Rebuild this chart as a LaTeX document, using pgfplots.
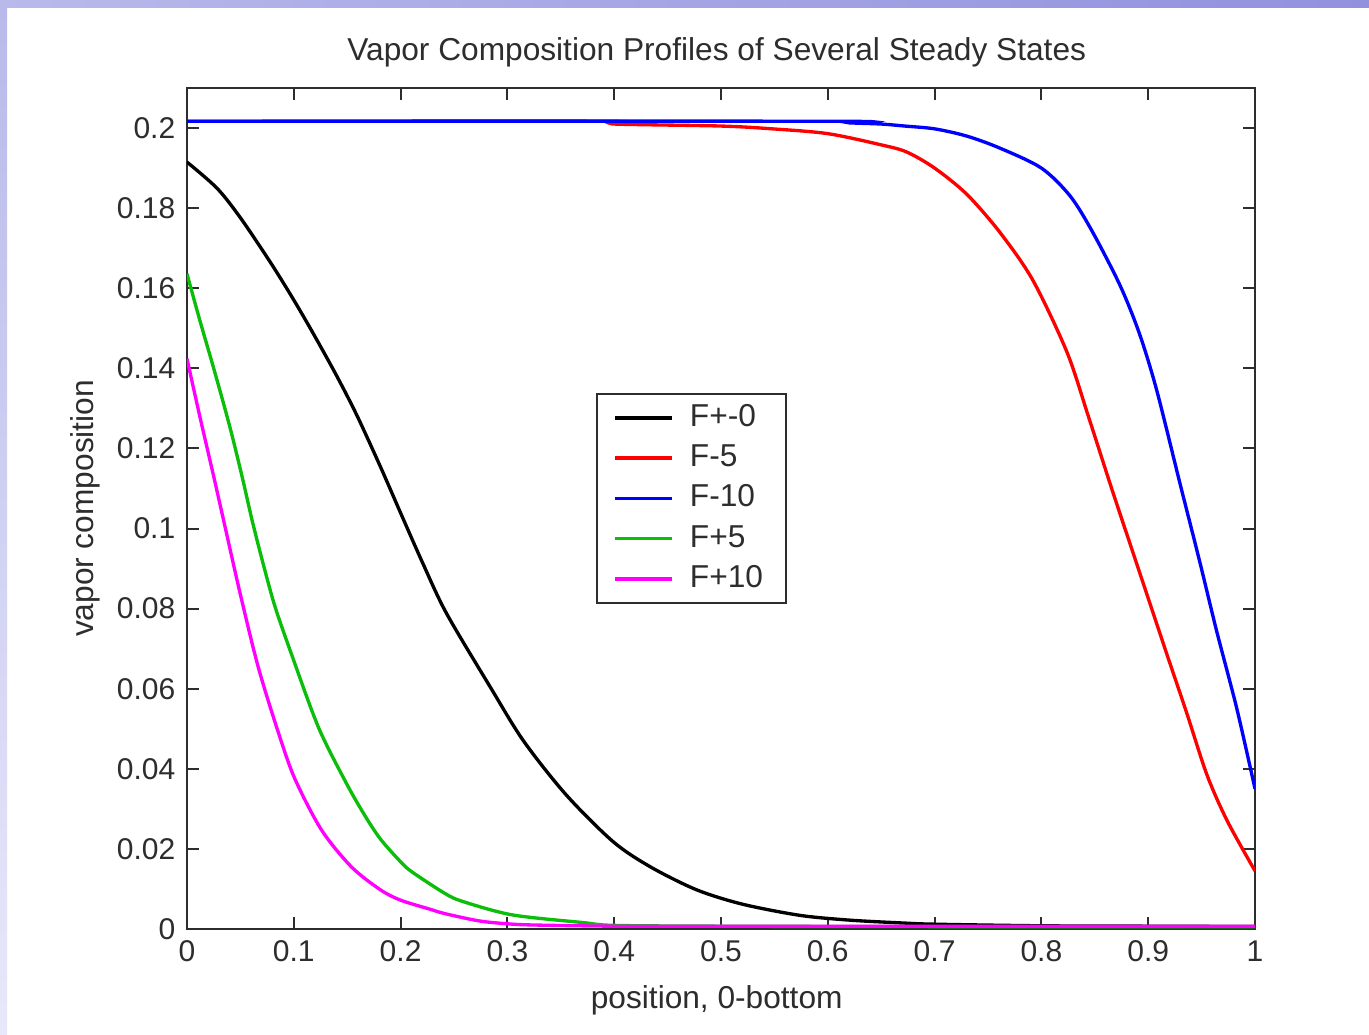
\documentclass[border=0pt]{standalone}
\usepackage{pgfplots}
\pgfplotsset{compat=1.18}
\usepackage{fontspec}
\setmainfont{Liberation Sans}
\definecolor{axgray}{RGB}{45,45,45}
\definecolor{mgreen}{RGB}{10,190,10}
\definecolor{mmag}{RGB}{255,0,255}
\definecolor{lavA}{RGB}{185,185,235}
\definecolor{lavB}{RGB}{145,145,222}
\definecolor{lavC}{RGB}{232,232,250}
\begin{document}
\begin{tikzpicture}
% slide background frame
\fill[white] (2.1pt,0pt) rectangle (410.7pt,308.1pt);
\fill[top color=lavA, bottom color=lavC] (0pt,0pt) rectangle (2.1pt,308.1pt);
\fill[left color=lavA, right color=lavB] (0pt,308.1pt) rectangle (410.7pt,310.5pt);
\begin{axis}[
    at={(56.1pt,31.8pt)}, anchor=south west,
    width=320.4pt, height=252.3pt, scale only axis,
    xmin=0, xmax=1, ymin=0, ymax=0.21,
    xtick={0,0.1,0.2,0.3,0.4,0.5,0.6,0.7,0.8,0.9,1},
    ytick={0,0.02,0.04,0.06,0.08,0.1,0.12,0.14,0.16,0.18,0.2},
    tick align=inside,
    axis line style={axgray, line width=0.6pt},
    every tick/.style={axgray, line width=0.6pt},
    major tick length=3.5pt,
    /pgf/number format/assume math mode=true,
    /pgf/number format/fixed,
    /pgf/number format/precision=2,
    ticklabel style={font=\fontsize{9}{10}\selectfont, text=axgray},
    every axis title shift=0pt,
    title={Vapor Composition Profiles of Several Steady States},
    title style={at={(0.496,1.042)}, anchor=center, font=\fontsize{9.5}{11}\selectfont, text=axgray},
    xlabel={position, 0-bottom},
    xlabel style={at={(0.496,-0.0844)}, anchor=center, font=\fontsize{9.5}{11}\selectfont, text=axgray},
    ylabel={vapor composition},
    ylabel style={at={(-0.0955,0.5)}, anchor=center, font=\fontsize{9.5}{11}\selectfont, text=axgray},
    legend style={at={(0.383,0.637)}, anchor=north west, draw=axgray, line width=0.6pt,
        font=\fontsize{9.5}{10}\selectfont, text=axgray, row sep=0pt,
        inner xsep=5pt, inner ysep=1pt,
        /tikz/every odd column/.append style={column sep=2.8pt}},
    legend cell align=left,
]

\addplot[black, line width=1pt, smooth] coordinates {
    (0,0.1915) (0.028,0.185) (0.05,0.1776) (0.078,0.1665) (0.099,0.1575)
    (0.118,0.1488) (0.14,0.1382) (0.159,0.1283) (0.181,0.1155) (0.199,0.1045)
    (0.221,0.0912) (0.243,0.0788) (0.284,0.0604) (0.315,0.047) (0.355,0.0335)
    (0.399,0.0218) (0.434,0.0155) (0.477,0.0098) (0.52,0.0062) (0.574,0.0034)
    (0.621,0.0022) (0.67,0.0015) (0.7,0.0012) (0.8,0.0008) (0.9,0.0007)
    (1,0.0006)
};

\addplot[red, line width=1pt, smooth] coordinates {
    (0,0.2017) (0.39,0.2017) (0.4,0.201) (0.5,0.2005) (0.548,0.1998)
    (0.6,0.1986) (0.65,0.1958) (0.674,0.194) (0.7,0.19) (0.73,0.1835)
    (0.761,0.174) (0.792,0.162) (0.824,0.144) (0.844,0.128) (0.867,0.109)
    (0.892,0.089) (0.917,0.069) (0.936,0.054) (0.955,0.0385) (0.974,0.027)
    (1,0.0145)
};

\addplot[blue, line width=1pt, smooth] coordinates {
    (0,0.2017) (0.6,0.2017) (0.62,0.2013) (0.65,0.201) (0.672,0.2005)
    (0.7,0.1998) (0.73,0.198) (0.761,0.195) (0.8,0.19) (0.827,0.183)
    (0.848,0.174) (0.874,0.1605) (0.892,0.1485) (0.908,0.1345) (0.93,0.111)
    (0.948,0.092) (0.964,0.0745) (0.983,0.055) (1,0.035)
};

\addplot[mgreen, line width=1pt, smooth] coordinates {
    (0,0.1636) (0.012,0.152) (0.025,0.14) (0.04,0.1255) (0.052,0.1125)
    (0.061,0.102) (0.0715,0.091) (0.0824,0.0805) (0.098,0.0685) (0.123,0.0504)
    (0.148,0.037) (0.165,0.029) (0.181,0.0225) (0.201,0.0165) (0.212,0.014)
    (0.242,0.0088) (0.259,0.0068) (0.305,0.0035) (0.371,0.0016) (0.4,0.0009)
    (0.5,0.0007) (0.7,0.0006) (1,0.0006)
};

\addplot[mmag, line width=1pt, smooth] coordinates {
    (0,0.1424) (0.012,0.128) (0.025,0.113) (0.036,0.1) (0.05,0.0835)
    (0.0666,0.0655) (0.085,0.0495) (0.101,0.0375) (0.126,0.0247) (0.154,0.0155)
    (0.181,0.0098) (0.2,0.0072) (0.228,0.0049) (0.242,0.0038) (0.274,0.002)
    (0.3,0.0013) (0.324,0.001) (0.4,0.0007) (0.5,0.0007) (0.7,0.0007) (1,0.0007)
};

\legend{F+-0, F-5, F-10, F+5, F+10}
\end{axis}
\pgfresetboundingbox
\useasboundingbox (0pt,0pt) rectangle (410.7pt,310.5pt);
\end{tikzpicture}
\end{document}
